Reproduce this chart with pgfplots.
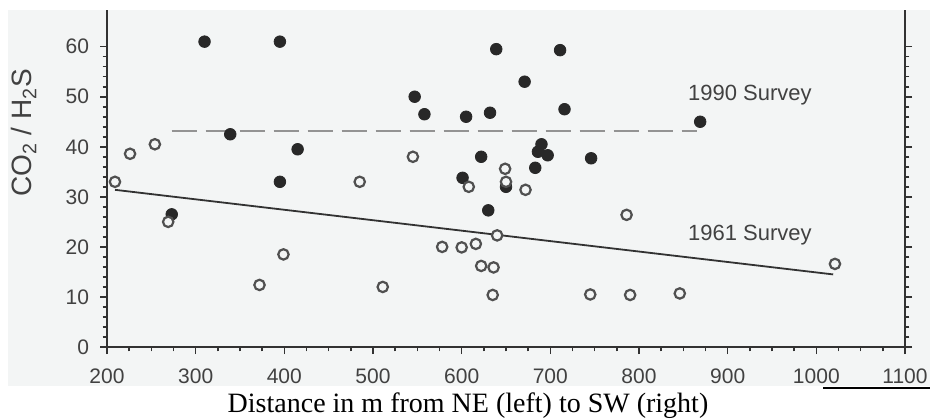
\documentclass[border=0pt]{standalone}
\usepackage{fontspec}
\setmainfont{Liberation Sans}
\newfontfamily\timesfont{Liberation Serif}
\usepackage{pgfplots}
\pgfplotsset{compat=1.18}
\definecolor{bgcol}{RGB}{243,245,245}
\definecolor{axcol}{RGB}{50,50,50}
\definecolor{txtcol}{RGB}{65,65,65}
\definecolor{opencol}{RGB}{80,80,80}
\definecolor{fillcol}{RGB}{40,40,40}
\pgfplotstableread{
x y
310 61
395 61
339 42.5
415 39.5
395 33
547 50
558 46.5
639 59.5
711 59.3
671 53
605 46
632 46.8
716 47.5
622 38
690 40.5
686 39
697 38.3
746 37.7
683 35.8
601 33.8
650 32
630 27.3
869 45
273 26.5
}\filled
\pgfplotstableread{
x y
209 33
226 38.6
254 40.5
269 25
372 12.4
399 18.5
485 33
511 12
545 38
578 20
600 19.9
608 32
616 20.6
622 16.2
636 15.9
635 10.4
640 22.3
649 35.6
650 33
672 31.4
745 10.5
786 26.4
790 10.4
846 10.7
1021 16.6
}\open
\begin{document}
\begin{tikzpicture}
\useasboundingbox (-53.5pt,-36pt) rectangle (411.5pt,173.5pt);
\fill[bgcol] (-49.5pt,-19.5pt) rectangle (411.5pt,168.5pt);
\draw[black, line width=0.8pt] (358pt,-20.5pt) -- (411.5pt,-20.5pt);
\begin{axis}[
  scale only axis,
  width=399pt, height=168.7pt,
  xmin=200, xmax=1100, ymin=0, ymax=67.4,
  axis x line*=bottom,
  axis y line*=box,
  axis line style={axcol, line width=0.9pt},
  xtick={200,300,...,1100},
  ytick={0,10,...,60},
  minor x tick num=3,
  minor y tick num=4,
  tick align=outside,
  major tick length=3.5pt,
  minor tick length=2.2pt,
  every tick/.style={axcol, line width=0.8pt},
  ticklabel style={font=\fontsize{10.5}{12}\selectfont, text=txtcol},
  /pgf/number format/assume math mode=true,
  /pgf/number format/1000 sep={},
  xticklabel style={yshift=-4pt},
  yticklabel style={xshift=-2pt},
  clip=false,
]
\addplot[only marks, mark=*, mark size=2.9pt, mark options={fill=fillcol, draw=fillcol}] table {\filled};
\addplot[only marks, mark=*, mark size=2.6pt, mark options={fill=bgcol, draw=opencol, line width=1.1pt}] table {\open};
\addplot[no marks, color=gray!85, line width=1pt, dash pattern=on 12.5pt off 4.5pt] coordinates {(273,43.1) (865,43.1)};
\addplot[no marks, color=axcol, line width=0.9pt] coordinates {(209,31.4) (1019,14.5)};
\node[text=txtcol, font=\fontsize{11}{13}\selectfont] at (axis cs:925,50.4) {1990 Survey};
\node[text=txtcol, font=\fontsize{11}{13}\selectfont] at (axis cs:925,22.4) {1961 Survey};
\node[text=txtcol, rotate=90, anchor=base, font=\fontsize{14}{16}\selectfont] at (axis cs:115.4,42.8) {CO\textsubscript{2} / H\textsubscript{2}S};
\end{axis}
\node[anchor=base, font=\timesfont\fontsize{14}{16}\selectfont] at (180.5pt,-32.85pt) {Distance in m from NE (left) to SW (right)};
\end{tikzpicture}
\end{document}
